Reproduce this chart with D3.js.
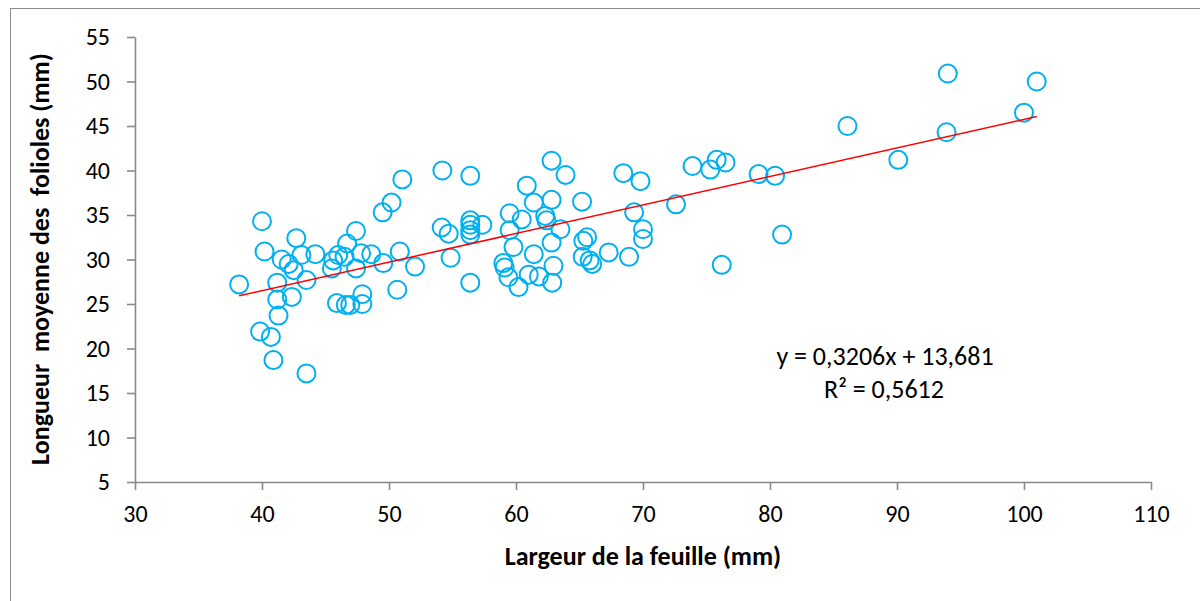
<!DOCTYPE html>
<html><head><meta charset="utf-8">
<script src="https://cdn.jsdelivr.net/npm/d3@7/dist/d3.min.js"></script>
<style>body{margin:0;background:#fff;} svg{display:block;} text{white-space:pre;}</style>
</head><body>
<svg id="chart" width="1200" height="601"></svg>
<script>
const xValues = [38.2,40.0,40.2,41.55,42.1,42.5,42.7,43.1,44.2,43.5,41.2,41.2,42.35,41.3,39.85,40.7,40.9,43.5,45.5,45.6,46.0,46.5,46.7,47.4,47.4,47.8,48.6,49.55,50.85,52.05,50.65,45.9,46.6,46.95,47.9,47.9,49.5,50.2,51.05,54.2,56.4,54.15,54.7,54.85,56.4,56.4,56.4,56.4,57.35,56.4,59.5,60.45,60.85,61.4,62.3,62.4,62.8,62.8,63.9,59.5,63.5,59.8,62.8,65.3,65.6,61.4,65.25,65.8,66.0,67.3,68.9,59.0,59.1,62.95,59.4,61.0,61.8,60.2,62.85,65.2,68.45,69.8,69.3,70.0,70.0,72.6,73.9,75.3,75.8,76.5,79.1,80.4,80.95,76.2,86.1,90.1,94.0,93.9,100.0,101.0];
const yValues = [27.2,34.3,30.9,30.0,29.5,28.8,32.4,30.5,30.6,27.7,27.4,25.5,25.8,23.7,21.9,21.3,18.7,17.2,29.0,29.9,30.5,30.3,31.8,33.2,29.0,30.7,30.6,29.6,30.9,29.2,26.6,25.1,24.9,24.9,26.1,25.0,35.3,36.4,39.0,40.0,39.4,33.6,32.9,30.2,34.4,33.9,33.3,32.8,33.9,27.4,35.2,34.5,38.3,36.4,34.9,34.4,36.7,41.1,39.5,33.3,33.4,31.4,31.9,32.1,32.5,30.6,30.3,29.9,29.5,30.8,30.3,29.6,29.1,29.3,28.0,28.3,28.1,26.9,27.4,36.5,39.7,38.8,35.3,33.4,32.3,36.2,40.5,40.1,41.2,40.9,39.6,39.4,32.8,29.4,45.0,41.2,50.9,44.3,46.5,50.0];
const xTicks = [30,40,50,60,70,80,90,100,110];
const yTicks = [5,10,15,20,25,30,35,40,45,50,55];
const trendSlope = 0.3206, trendIntercept = 13.681;
const eqLabel = "y = 0,3206x + 13,681";
const r2Label = "R² = 0,5612";
const xTitle = "Largeur de la feuille (mm)";
const yTitle = "Longueur  moyenne des  folioles (mm)";

const svg = d3.select("#chart");
const font = "Carlito, Calibri, 'Open Sans', sans-serif";
const axisColor = "#898989";

svg.append("rect").attr("x",10.5).attr("y",8.5).attr("width",1200).attr("height",620)
  .attr("fill","none").attr("stroke","#8c8c8c").attr("stroke-width",1);

const x = d3.scaleLinear().domain([30,110]).range([135,1151]);
const y = d3.scaleLinear().domain([5,55]).range([482,37]);

const xAxis = svg.append("g").attr("transform","translate(0,482)")
  .call(d3.axisBottom(x).tickValues(xTicks).tickSize(8).tickSizeOuter(0).tickPadding(15));
const yAxis = svg.append("g").attr("transform","translate(135,0)")
  .call(d3.axisLeft(y).tickValues(yTicks).tickSize(8).tickSizeOuter(0).tickPadding(17));
[xAxis,yAxis].forEach(g=>{
  g.selectAll("path,line").attr("stroke",axisColor).attr("stroke-width",1.6);
  g.selectAll("text").attr("fill","#000").style("font-family",font).style("font-size","24px");
});

const pts = xValues.map((v,i)=>({x:v,y:yValues[i]}));
svg.append("g").selectAll("circle").data(pts).join("circle")
  .attr("cx",d=>x(d.x)).attr("cy",d=>y(d.y)).attr("r",9)
  .attr("fill","none").attr("stroke","#00B0F0").attr("stroke-width",2);

const xmin = d3.min(xValues), xmax = d3.max(xValues);
svg.append("line")
  .attr("x1",x(xmin)).attr("y1",y(trendSlope*xmin+trendIntercept))
  .attr("x2",x(xmax)).attr("y2",y(trendSlope*xmax+trendIntercept))
  .attr("stroke","#FF0000").attr("stroke-width",1.5);

svg.append("text").attr("x",885).attr("y",365).attr("text-anchor","middle")
  .style("font-family",font).style("font-size","26px").text(eqLabel);
svg.append("text").attr("x",884).attr("y",398).attr("text-anchor","middle")
  .style("font-family",font).style("font-size","26px").text(r2Label);

svg.append("text").attr("x",643).attr("y",565).attr("text-anchor","middle")
  .style("font-family",font).style("font-size","26px").style("font-weight","bold").text(xTitle);
svg.append("text").attr("transform","translate(49,259) rotate(-90)").attr("text-anchor","middle")
  .style("font-family",font).style("font-size","26px").style("font-weight","bold").text(yTitle);
</script>
</body></html>
